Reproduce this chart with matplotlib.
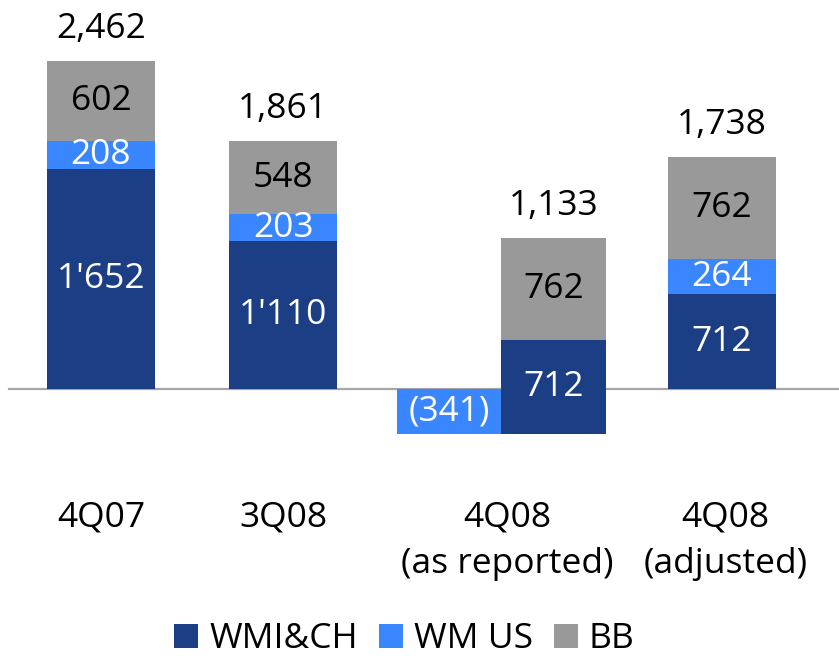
import matplotlib
matplotlib.use("Agg")
import matplotlib.pyplot as plt
from matplotlib.patches import Patch

plt.rcParams['font.family'] = ['Open Sans', 'DejaVu Sans']

# ---- data ----
categories = ['4Q07', '3Q08', '4Q08\n(as reported)', '4Q08\n(adjusted)']
series_names = ['WMI&CH', 'WM US', 'BB']
wmi_ch = [1652, 1110, 712, 712]
wm_us = [208, 203, -341, 264]
bb = [602, 548, 762, 762]
totals = [2462, 1861, 1133, 1738]

# ---- style / layout ----
c_dark = '#1B3E85'
c_light = '#3A86FF'
c_grey = '#999999'
fs = 25.5

bar_x = [0.0, 1.0, 2.486, 3.412]       # main stacked bar positions
neg_x = 1.912                          # position for a negative WM US bar
bar_w = [0.593, 0.593, 0.577, 0.593]
neg_w = 0.571
label_x = [0.0, 1.0, 2.23, 3.43]

fig = plt.figure(figsize=(8.39, 6.61), dpi=100)
ax = fig.add_axes([0, 0, 1, 1])
px_per_unit = 0.1332
base_py = 389
ax.set_xlim((0 - 101) / 182, (839 - 101) / 182)
ax.set_ylim(-(661 - base_py) / px_per_unit, base_py / px_per_unit)
ax.axis('off')

# baseline
ax.plot([(9 - 101) / 182, (839 - 101) / 182], [0, 0], color='#A6A6A6', lw=1.6, zorder=1)

def fmt_apos(v):
    return f"{v:,}".replace(',', "'")

def fmt_us(v):
    return f"({abs(v)})" if v < 0 else f"{v}"

for i in range(len(categories)):
    x, w = bar_x[i], bar_w[i]
    if wm_us[i] < 0:
        # waterfall-style: negative bar to the left, rest stacked from it
        ax.bar(neg_x, wm_us[i], width=neg_w, bottom=0, color=c_light, zorder=2)
        ax.text(neg_x, wm_us[i] / 2, fmt_us(wm_us[i]), ha='center', va='center',
                color='white', fontsize=fs)
        b0 = wm_us[i]
        ax.bar(x, wmi_ch[i], width=w, bottom=b0, color=c_dark, zorder=2)
        ax.text(x, b0 + wmi_ch[i] / 2, fmt_apos(wmi_ch[i]), ha='center', va='center',
                color='white', fontsize=fs)
        b1 = b0 + wmi_ch[i]
    else:
        ax.bar(x, wmi_ch[i], width=w, bottom=0, color=c_dark, zorder=2)
        ax.text(x, wmi_ch[i] / 2, fmt_apos(wmi_ch[i]), ha='center', va='center',
                color='white', fontsize=fs)
        ax.bar(x, wm_us[i], width=w, bottom=wmi_ch[i], color=c_light, zorder=2)
        ax.text(x, wmi_ch[i] + wm_us[i] / 2, fmt_us(wm_us[i]), ha='center', va='center',
                color='white', fontsize=fs)
        b1 = wmi_ch[i] + wm_us[i]
    ax.bar(x, bb[i], width=w, bottom=b1, color=c_grey, zorder=2)
    ax.text(x, b1 + bb[i] / 2, f"{bb[i]}", ha='center', va='center',
            color='black', fontsize=fs)
    ax.text(x, totals[i] + 32 / px_per_unit, f"{totals[i]:,}", ha='center', va='center',
            color='black', fontsize=fs)
    for j, line in enumerate(categories[i].split('\n')):
        ax.text(label_x[i], -(527 + 46 * j - base_py) / px_per_unit, line, ha='center',
                va='baseline', color='black', fontsize=fs)

handles = [Patch(facecolor=c, edgecolor='none') for c in (c_dark, c_light, c_grey)]
fig.legend(handles, series_names, loc='lower center', ncol=3, frameon=False,
           bbox_to_anchor=(0.482, -0.014), fontsize=fs, handlelength=0.68,
           handleheight=0.68, handletextpad=0.3, columnspacing=0.6, borderaxespad=0)

fig.savefig('out.png', dpi=100)
